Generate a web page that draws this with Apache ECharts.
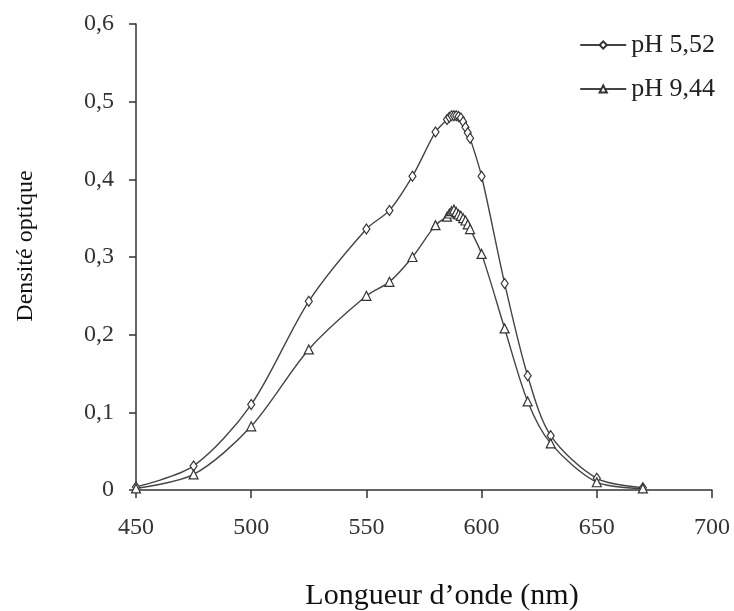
<!DOCTYPE html>
<html>
<head>
<meta charset="utf-8">
<script src="https://cdn.jsdelivr.net/npm/echarts@6/dist/echarts.min.js"></script>
<style>
html,body{margin:0;padding:0;background:#fff;}
#chart{width:734px;height:611px;}
</style>
</head>
<body>
<div id="chart"></div>
<script>
var wavelengths = [450,475,500,525,550,560,570,580,585,586,587,588,589,590,591,592,593,594,595,600,610,620,630,650,670];
var ph552 = [0.004,0.031,0.110,0.243,0.336,0.360,0.404,0.461,0.477,0.480,0.482,0.482,0.482,0.481,0.479,0.474,0.467,0.460,0.453,0.404,0.266,0.147,0.070,0.015,0.003];
var ph944 = [0.002,0.020,0.082,0.181,0.250,0.268,0.300,0.341,0.352,0.356,0.359,0.361,0.358,0.355,0.353,0.350,0.347,0.342,0.336,0.304,0.208,0.114,0.060,0.010,0.002];
var seriesNames = ['pH 5,52','pH 9,44'];
var xTitle = 'Longueur d\u2019onde (nm)';
var yTitle = 'Densit\u00e9 optique';

function pairs(xs, ys){ return xs.map(function(x,i){ return [x, ys[i]]; }); }

var font = 'Liberation Serif';
var chart = echarts.init(document.getElementById('chart'));
chart.setOption({
  animation:false,
  backgroundColor:'#fff',
  grid:{left:136,right:22,top:24,bottom:121,containLabel:false,outerBoundsMode:'none'},
  legend:{
    orient:'vertical', right:14, top:27,
    itemWidth:46, itemHeight:9, itemGap:18,
    textStyle:{fontFamily:font,fontSize:26,color:'#222'},
    data:seriesNames
  },
  xAxis:{
    type:'value', min:450, max:700, interval:50,
    name:xTitle, nameLocation:'middle', nameGap:91,
    nameTextStyle:{fontFamily:font,fontSize:30,color:'#111',padding:[0,0,0,36]},
    axisLine:{lineStyle:{color:'#333',width:1.5}},
    axisTick:{length:8,lineStyle:{color:'#333',width:1.5}},
    axisLabel:{fontFamily:font,fontSize:24,color:'#333',margin:26},
    splitLine:{show:false}
  },
  yAxis:{
    type:'value', min:0, max:0.6, interval:0.1,
    name:yTitle, nameLocation:'middle', nameGap:98, nameRotate:90,
    nameTextStyle:{fontFamily:font,fontSize:24,color:'#111',padding:[0,0,0,22]},
    axisLine:{show:true,lineStyle:{color:'#333',width:1.5}},
    axisTick:{show:true,length:7,lineStyle:{color:'#333',width:1.5}},
    axisLabel:{fontFamily:font,fontSize:24,color:'#333',margin:22,
      formatter:function(v){ return (Math.round(v*10)/10).toString().replace('.',','); }},
    splitLine:{show:false}
  },
  series:[
    {name:seriesNames[0], type:'line', smooth:0.3, data:pairs(wavelengths,ph552),
     symbol:'diamond', symbolSize:[7,10], showAllSymbol:true,
     lineStyle:{color:'#444',width:1.4},
     itemStyle:{color:'#fff',borderColor:'#333',borderWidth:1.2}},
    {name:seriesNames[1], type:'line', smooth:0.3, data:pairs(wavelengths,ph944),
     symbol:'triangle', symbolSize:9, showAllSymbol:true,
     lineStyle:{color:'#444',width:1.4},
     itemStyle:{color:'#fff',borderColor:'#333',borderWidth:1.2}}
  ]
});
</script>
</body>
</html>
